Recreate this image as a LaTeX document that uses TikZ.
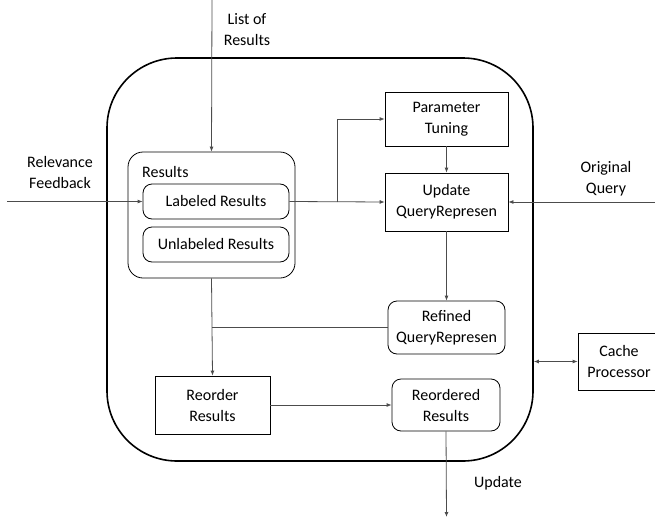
\documentclass[tikz,border=0pt]{standalone}
\usepackage{fontspec}
\setmainfont{Carlito}
\usetikzlibrary{arrows.meta}

\begin{document}
\begin{tikzpicture}[x=1pt, y=-1pt,
    every node/.style={font=\fontsize{16}{21}\selectfont, align=center},
    >={Latex[length=5pt, width=4pt]},
    box/.style={draw=black, line width=0.8pt, inner sep=0pt},
    rbox/.style={box, rounded corners=9pt},
    conn/.style={draw=black!70, line width=0.8pt}]
    \useasboundingbox (0, 0) rectangle (655, 519);

    % Outer frame
    \node (core) [draw, line width=1.6pt, rounded corners=70pt,
                  minimum width=426pt, minimum height=403pt] at (320, 259.5) {};

    % Results group
    \node (res) [rbox, rounded corners=15pt, minimum width=167pt, minimum height=126pt] at (211.5, 215) {};
    \node (reslbl) [anchor=west, inner sep=0pt] at (142, 172) {Results};
    \node (lab) [rbox, minimum width=146pt, minimum height=35pt] at (216, 201.5) {Labeled Results};
    \node (unl) [rbox, minimum width=146pt, minimum height=35pt] at (216, 244.5) {Unlabeled Results};

    % Query side
    \node (par) [box, minimum width=123pt, minimum height=54pt] at (446.5, 119) {Parameter\\Tuning};
    \node (upd) [box, minimum width=123pt, minimum height=58pt] at (446.5, 202) {Update\\QueryRepresen};
    \node (ref) [rbox, minimum width=117pt, minimum height=53pt] at (446.5, 327.5) {Refined\\QueryRepresen};

    % Reordering
    \node (reo) [box, minimum width=115pt, minimum height=58pt] at (212.5, 405) {Reorder\\Results};
    \node (rrd) [rbox, minimum width=108pt, minimum height=52pt] at (446, 405) {Reordered\\Results};

    % Cache
    \node (cache) [box, minimum width=82pt, minimum height=57pt] at (619, 361.5) {Cache\\Processor};

    % Outside inputs and output
    \coordinate (lstin) at (212, 0);
    \coordinate (relin) at (7, 201.5);
    \coordinate (orgin) at (655, 202);
    \coordinate (updout) at (446.5, 517);
    \coordinate (br) at (337, 202);
    \node (lsttxt) at (247, 30) {List of\\Results};
    \node (reltxt) at (60, 173) {Relevance\\Feedback};
    \node (orgtxt) at (606, 179) {Original\\Query};
    \node (updtxt) at (498, 483) {Update};

    % Connections
    \draw [conn, ->] (lstin) -- (res.north);
    \draw [conn, ->] (relin) -- (lab.west);
    \draw [conn, ->] (orgin) -- (upd.east);
    \draw [conn, ->] (lab.east) -- (upd.west);
    \draw [conn, ->] (br) |- (par.west);
    \draw [conn, ->] (par.south) -- (upd.north);
    \draw [conn, ->] (upd.south) -- (ref.north);
    \draw [conn] (ref.west) -- (ref.west -| res.south);
    \draw [conn, ->] (res.south) -- (reo.north);
    \draw [conn, ->] (reo.east) -- (rrd.west);
    \draw [conn, ->] (rrd.south) -- (updout);
    \draw [conn, <->] (cache.west -| core.east) -- (cache.west);
\end{tikzpicture}
\end{document}
